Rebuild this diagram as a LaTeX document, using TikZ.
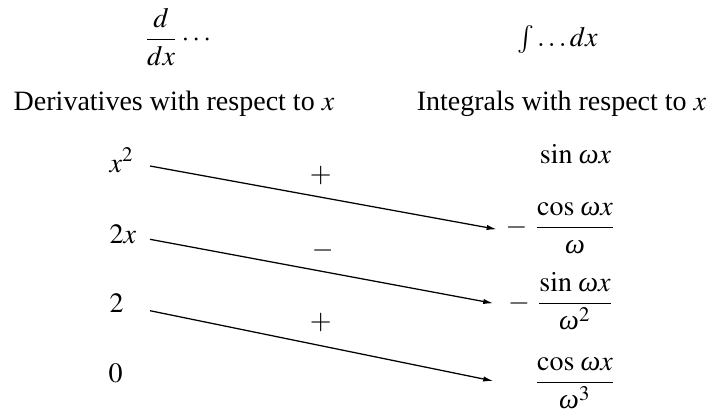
\documentclass[tikz,border=0pt]{standalone}
\usepackage{amsmath}
\usepackage{mathptmx}
\usepackage[no-math]{fontspec}
\setmainfont{Liberation Serif}
\newcommand{\omg}{\mathord{\text{\itshape ω}}}
\usetikzlibrary{arrows.meta}
\begin{document}
\begin{tikzpicture}[x=0.357pt,y=-0.357pt,
  lbl/.style={inner sep=0pt, anchor=base},
  lft/.style={inner sep=0pt, anchor=base west},
  sgn/.style={inner sep=0pt},
  arr/.style={-{Latex[length=3.6pt,width=1.9pt]}, line width=0.45pt}]
\useasboundingbox (0,0) rectangle (710,413);
% headings
\node[lbl] (ddx) at (179,46.3) {$\dfrac{d}{dx}\cdots$};
\node[lbl] (int) at (557.5,46.7) {$\int\ldots dx$};
\node[lbl] (dlab) at (174,110) {Derivatives with respect to $x$};
\node[lbl] (ilab) at (561.5,110) {Integrals with respect to $x$};
% left column
\node[lft] (l1) at (109,172) {$x^2$};
\node[lft] (l2) at (109,243) {$2x$};
\node[lft] (l3) at (109,312.7) {$2$};
\node[lft] (l4) at (108,382) {$0$};
% right column
\node[lbl] (r1) at (575.5,163.5) {$\sin\,\omg x$};
\node[lbl] (r2) at (575,234.3) {$\llap{$-\mkern4mu$}\dfrac{\cos\,\omg x}{\omg}$};
\node[lbl] (r3) at (575,310.3) {$\llap{$-\mkern4mu$}\dfrac{\sin\,\omg x}{\omg^2}$};
\node[lbl] (r4) at (575,389.3) {$\dfrac{\cos\,\omg x}{\omg^3}$};
% signs
\node[sgn] (s1) at (320.7,175.7) {$+$};
\node[sgn] (s2) at (322.7,250.7) {$-$};
\node[sgn] (s3) at (320.7,322.3) {$+$};
% arrows
\coordinate (a1) at (150,166);   \coordinate (b1) at (496.7,229.3);
\coordinate (a2) at (150,239.3); \coordinate (b2) at (493.3,303.3);
\coordinate (a3) at (150,310.7); \coordinate (b3) at (493.3,381);
\draw[arr] (a1) -- (b1);
\draw[arr] (a2) -- (b2);
\draw[arr] (a3) -- (b3);
\end{tikzpicture}
\end{document}
